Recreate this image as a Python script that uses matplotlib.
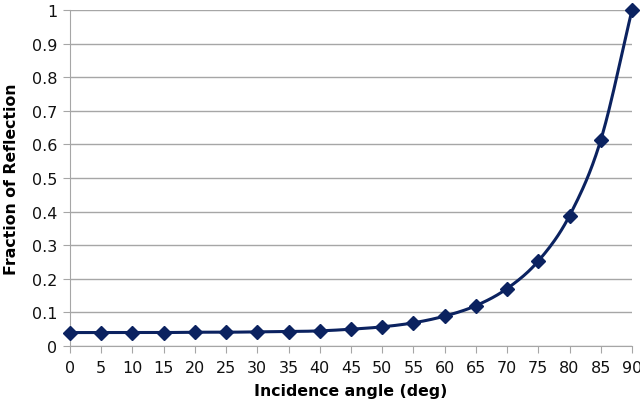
import numpy as np
import matplotlib.pyplot as plt

# incidence angle (deg) and fraction of reflection
angle = [0, 5, 10, 15, 20, 25, 30, 35, 40, 45, 50, 55, 60, 65, 70, 75, 80, 85, 90]
refl = [0.040, 0.040, 0.040, 0.040, 0.041, 0.041, 0.042, 0.043, 0.045, 0.050,
        0.057, 0.069, 0.089, 0.120, 0.171, 0.253, 0.388, 0.613, 1.000]


def smooth(x, y, n=20):
    # catmull-rom curve through the points, like the spreadsheet's smoothed line
    x = np.asarray(x, float)
    y = np.asarray(y, float)
    px = np.concatenate([[2 * x[0] - x[1]], x, [2 * x[-1] - x[-2]]])
    py = np.concatenate([[2 * y[0] - y[1]], y, [2 * y[-1] - y[-2]]])
    t = np.linspace(0, 1, n)
    xs, ys = [], []
    for i in range(1, len(px) - 2):
        for p, out in ((px, xs), (py, ys)):
            p0, p1, p2, p3 = p[i - 1], p[i], p[i + 1], p[i + 2]
            out.append(0.5 * (2 * p1 + (-p0 + p2) * t
                              + (2 * p0 - 5 * p1 + 4 * p2 - p3) * t ** 2
                              + (-p0 + 3 * p1 - 3 * p2 + p3) * t ** 3))
    return np.concatenate(xs), np.concatenate(ys)


navy = '#0b2260'
fig = plt.figure(figsize=(6.4, 4.06), dpi=100)
ax = fig.add_axes([70 / 640, 1 - 347 / 406, 562 / 640, 336 / 406])

sx, sy = smooth(angle, refl)
ax.plot(sx, sy, '-', color=navy, lw=2.2, clip_on=False, zorder=3)
ax.plot(angle, refl, 'D', color=navy, ms=7, clip_on=False, zorder=4)

ax.set_xlim(0, 90)
ax.set_ylim(0, 1)
ax.set_xticks(angle)
ax.set_yticks(np.arange(0, 1.01, 0.1))
ax.set_yticklabels(['0', '0.1', '0.2', '0.3', '0.4', '0.5', '0.6', '0.7', '0.8', '0.9', '1'])
ax.grid(True, axis='y', color='#a6a6a6', lw=1)
ax.set_axisbelow(True)
for s in ['top', 'right']:
    ax.spines[s].set_visible(False)
for s in ['left', 'bottom']:
    ax.spines[s].set_color('#a6a6a6')
ax.tick_params(colors='#a6a6a6', labelcolor='#111111', labelsize=11.5, length=5)
ax.tick_params(axis='x', pad=5)
ax.tick_params(axis='y', pad=4)

ax.set_xlabel('Incidence angle (deg)', fontsize=11.3, fontweight='bold', labelpad=6)
ax.set_ylabel('Fraction of Reflection', fontsize=11.3, fontweight='bold', labelpad=9)

fig.savefig('out.png', dpi=100)
